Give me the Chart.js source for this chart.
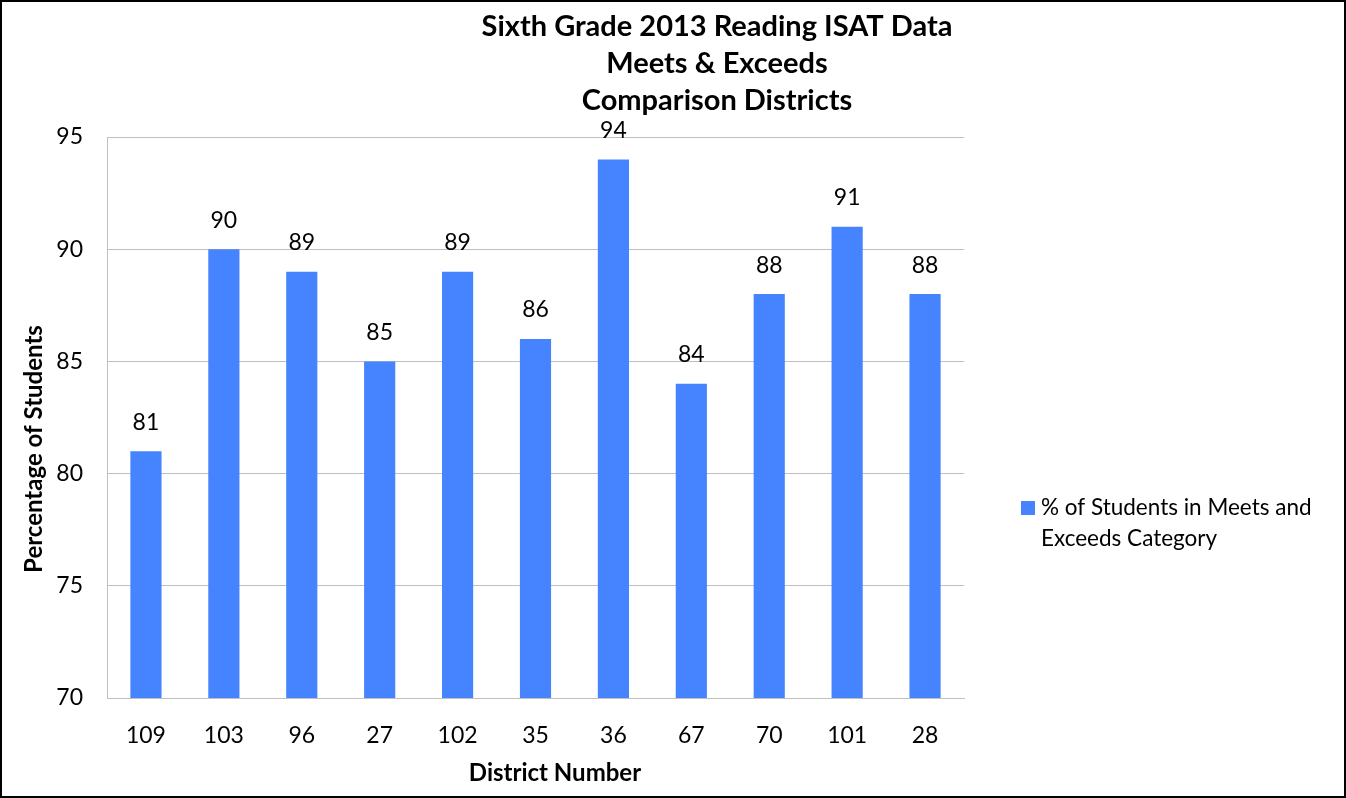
<!DOCTYPE html>
<html>
<head>
<meta charset="utf-8">
<script src="https://cdn.jsdelivr.net/npm/chart.js@4/dist/chart.umd.min.js"></script>
<style>
  body { margin: 0; background: #fff; }
  #wrap { width: 1346px; height: 798px; }
</style>
</head>
<body>
<div id="wrap"><canvas id="myChart" width="1346" height="798"></canvas></div>
<script>
// data
const districts = ["109", "103", "96", "27", "102", "35", "36", "67", "70", "101", "28"];
const meetsExceeds = [81, 90, 89, 85, 89, 86, 94, 84, 88, 91, 88];
const titleLines = ["Sixth Grade 2013 Reading ISAT Data", "Meets & Exceeds", "Comparison Districts"];
const seriesLabel = ["% of Students in Meets and", "Exceeds Category"];
const yTicks = [70, 75, 80, 85, 90, 95];

const barColor = "#4583FF";
const fontName = "Lato, 'Open Sans', sans-serif";

// title, axis titles, legend, value labels and the outer frame
const extras = {
    id: "extras",
    afterDraw(chart) {
        const ctx = chart.ctx;
        ctx.save();
        ctx.fillStyle = "#000";
        ctx.textAlign = "center";
        ctx.textBaseline = "middle";
        ctx.font = "bold 29px " + fontName;
        const ty = [27, 64, 101];
        titleLines.forEach((t, i) => ctx.fillText(t, 717, ty[i]));

        // axis titles
        ctx.font = "bold 24px " + fontName;
        ctx.fillText("District Number", 555, 773);
        ctx.save();
        ctx.translate(34, 449);
        ctx.rotate(-Math.PI / 2);
        ctx.fillText("Percentage of Students", 0, 0);
        ctx.restore();

        // value labels above bars
        ctx.font = "23px " + fontName;
        const meta = chart.getDatasetMeta(0);
        meta.data.forEach((bar, i) => {
            ctx.fillText(String(meetsExceeds[i]), bar.x, bar.y - 29);
        });

        // legend
        ctx.fillStyle = barColor;
        ctx.fillRect(1021, 501, 14, 14);
        ctx.fillStyle = "#000";
        ctx.textAlign = "left";
        ctx.font = "22.5px " + fontName;
        ctx.fillText(seriesLabel[0], 1041, 508);
        ctx.fillText(seriesLabel[1], 1041, 539);

        // frame
        ctx.strokeStyle = "#000";
        ctx.lineWidth = 2;
        ctx.strokeRect(1, 1, 1344, 796);
        ctx.restore();
    }
};

const ctx = document.getElementById("myChart");
const myChart = new Chart(ctx, {
    type: "bar",
    data: {
        labels: districts,
        datasets: [{
            label: seriesLabel.join(" "),
            data: meetsExceeds,
            backgroundColor: barColor,
            barPercentage: 0.4,
            categoryPercentage: 1.0
        }]
    },
    options: {
        responsive: false,
        animation: false,
        events: [],
        layout: { padding: { top: 137, right: 382, left: 0, bottom: 0 } },
        plugins: {
            legend: { display: false },
            title: { display: false },
            tooltip: { enabled: false }
        },
        scales: {
            x: {
                grid: { display: false },
                border: { display: true, color: "#BFBFBF", width: 1 },
                ticks: { color: "#000", font: { family: fontName, size: 23 }, padding: 16 },
                afterFit(scale) { scale.height = 100; }
            },
            y: {
                min: 70,
                max: 95,
                afterBuildTicks(scale) { scale.ticks = yTicks.map(v => ({ value: v })); },
                grid: { color: "#BFBFBF", drawTicks: false },
                border: { display: true, color: "#BFBFBF", width: 1 },
                ticks: { color: "#000", font: { family: fontName, size: 23 }, padding: 24 },
                afterFit(scale) { scale.width = 107; }
            }
        }
    },
    plugins: [extras]
});
</script>
</body>
</html>
